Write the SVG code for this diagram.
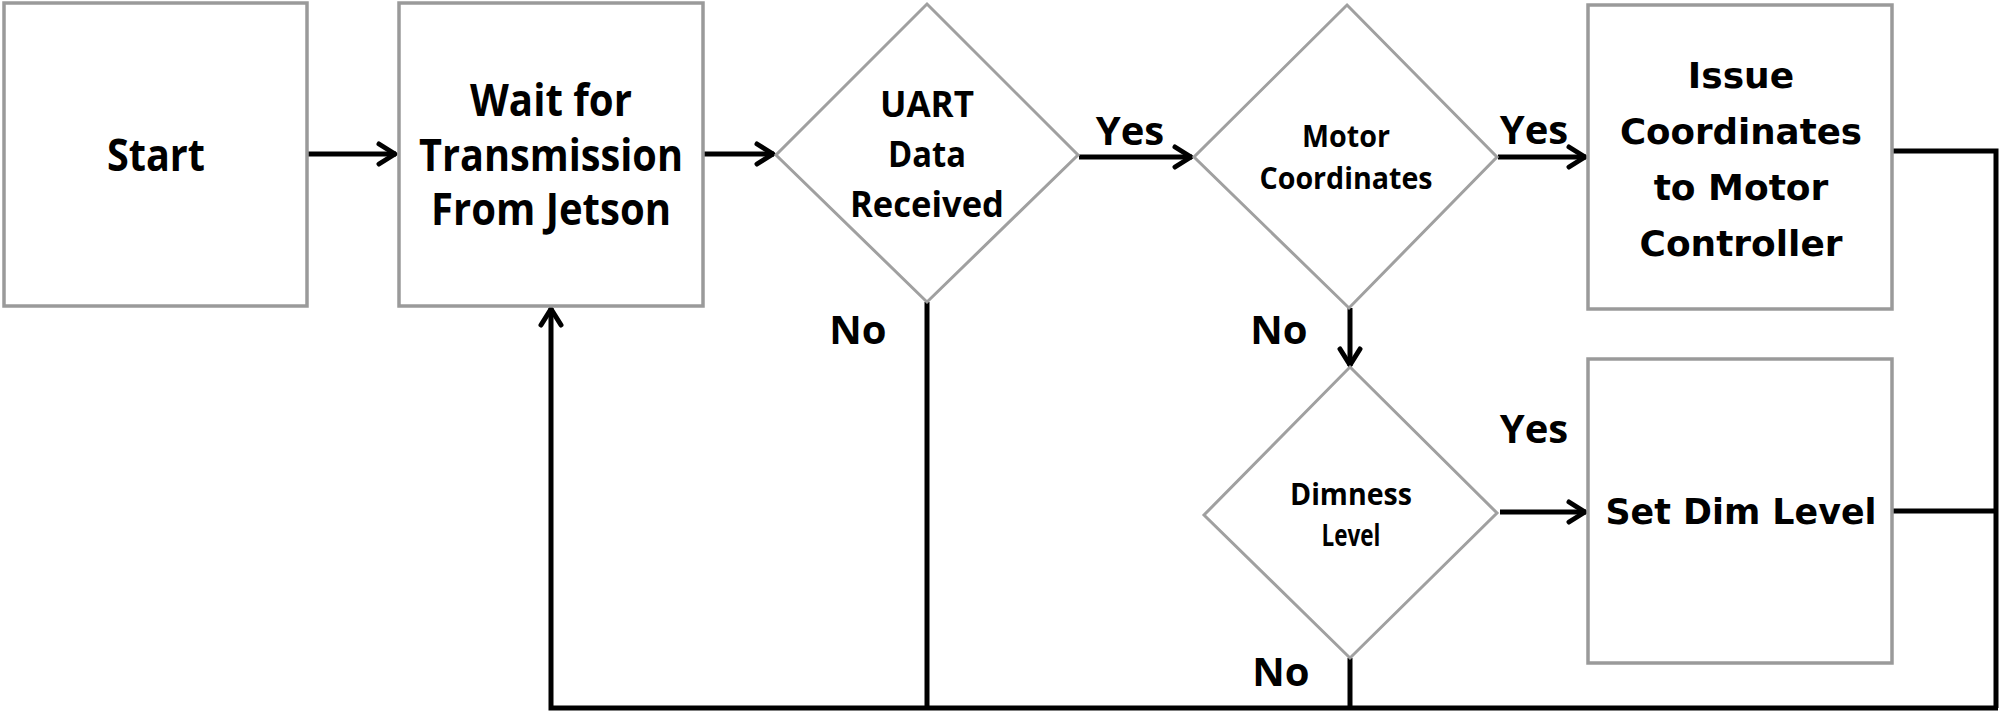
<svg xmlns="http://www.w3.org/2000/svg" width="2000" height="712" viewBox="0 0 2000 712">
<style>
.box{fill:#fff;stroke:#9a9a9a;stroke-width:3.5}
.dia{fill:#fff;stroke:#a0a0a0;stroke-width:3}
.t{font-family:"Open Sans","Liberation Sans",sans-serif;font-weight:bold;fill:#000;text-anchor:middle}
.w{font-family:"DejaVu Sans","Liberation Sans",sans-serif;font-weight:bold;fill:#000;text-anchor:middle;font-size:36px}
.c{fill:none;stroke:#000;stroke-width:5}
</style>
<defs>
<marker id="ah" markerUnits="userSpaceOnUse" markerWidth="24" markerHeight="26" viewBox="0 0 24 26" refX="20" refY="13" orient="auto">
<path d="M3,3 L19,13 L3,23" fill="none" stroke="#000" stroke-width="5" stroke-linecap="round" stroke-linejoin="round"/>
</marker>
</defs>
<rect width="2000" height="712" fill="#fff"/>
<g id="connectors">
<line class="c" x1="308" y1="154" x2="396" y2="154" marker-end="url(#ah)"/>
<line class="c" x1="704" y1="154" x2="774" y2="154" marker-end="url(#ah)"/>
<line class="c" x1="1079" y1="157" x2="1192" y2="157" marker-end="url(#ah)"/>
<line class="c" x1="1498" y1="157" x2="1586" y2="157" marker-end="url(#ah)"/>
<line class="c" x1="1350" y1="308" x2="1350" y2="366" marker-end="url(#ah)"/>
<line class="c" x1="1500" y1="512" x2="1586" y2="512" marker-end="url(#ah)"/>
<polyline class="c" points="1893,151 1996,151 1996,708"/>
<line class="c" x1="1893" y1="511" x2="1996" y2="511"/>
<line class="c" x1="927" y1="302" x2="927" y2="708"/>
<line class="c" x1="1350" y1="658" x2="1350" y2="708"/>
<polyline class="c" points="1998,708 551,708 551,308" marker-end="url(#ah)"/>
<text class="t" x="1130" y="145" font-size="40">Yes</text>
<text class="t" x="1534" y="144" font-size="40">Yes</text>
<text class="t" x="1534" y="443" font-size="40">Yes</text>
<text class="t" x="858" y="344" font-size="40">No</text>
<text class="t" x="1279" y="344" font-size="40">No</text>
<text class="t" x="1281" y="686" font-size="40">No</text>
</g>
<g id="start">
<rect class="box" x="4" y="3" width="303" height="303"/>
<text class="t" x="156" y="171" font-size="44" textLength="98" lengthAdjust="spacingAndGlyphs">Start</text>
</g>
<g id="wait">
<rect class="box" x="399" y="3" width="304" height="303"/>
<text class="t" x="551" y="116" font-size="44" textLength="162" lengthAdjust="spacingAndGlyphs">Wait for</text>
<text class="t" x="551" y="171" font-size="44" textLength="264" lengthAdjust="spacingAndGlyphs">Transmission</text>
<text class="t" x="551" y="225" font-size="44" textLength="240" lengthAdjust="spacingAndGlyphs">From Jetson</text>
</g>
<g id="uart">
<polygon class="dia" points="927,4 1078,155 927,302 776,155"/>
<text class="t" x="927" y="117" font-size="36" textLength="94" lengthAdjust="spacingAndGlyphs">UART</text>
<text class="t" x="927" y="167" font-size="36" textLength="78" lengthAdjust="spacingAndGlyphs">Data</text>
<text class="t" x="927" y="217" font-size="36" textLength="154" lengthAdjust="spacingAndGlyphs">Received</text>
</g>
<g id="motor">
<polygon class="dia" points="1347,5 1497,157 1349,308 1194,157"/>
<text class="t" x="1346" y="147" font-size="30" textLength="88" lengthAdjust="spacingAndGlyphs">Motor</text>
<text class="t" x="1346" y="189" font-size="30" textLength="173" lengthAdjust="spacingAndGlyphs">Coordinates</text>
</g>
<g id="issue">
<rect class="box" x="1588" y="5" width="304" height="304"/>
<text class="w" x="1741" y="88">Issue</text>
<text class="w" x="1741" y="144" textLength="242" lengthAdjust="spacingAndGlyphs">Coordinates</text>
<text class="w" x="1741" y="200">to Motor</text>
<text class="w" x="1741" y="256" textLength="203" lengthAdjust="spacingAndGlyphs">Controller</text>
</g>
<g id="dimness">
<polygon class="dia" points="1350,367 1497,513 1350,658 1204,515"/>
<text class="t" x="1351" y="505" font-size="30" textLength="122" lengthAdjust="spacingAndGlyphs">Dimness</text>
<text class="t" x="1351" y="546" font-size="30" textLength="59" lengthAdjust="spacingAndGlyphs">Level</text>
</g>
<g id="setdim">
<rect class="box" x="1588" y="359" width="304" height="304"/>
<text class="w" x="1741" y="524" textLength="271" lengthAdjust="spacingAndGlyphs">Set Dim Level</text>
</g>
</svg>
